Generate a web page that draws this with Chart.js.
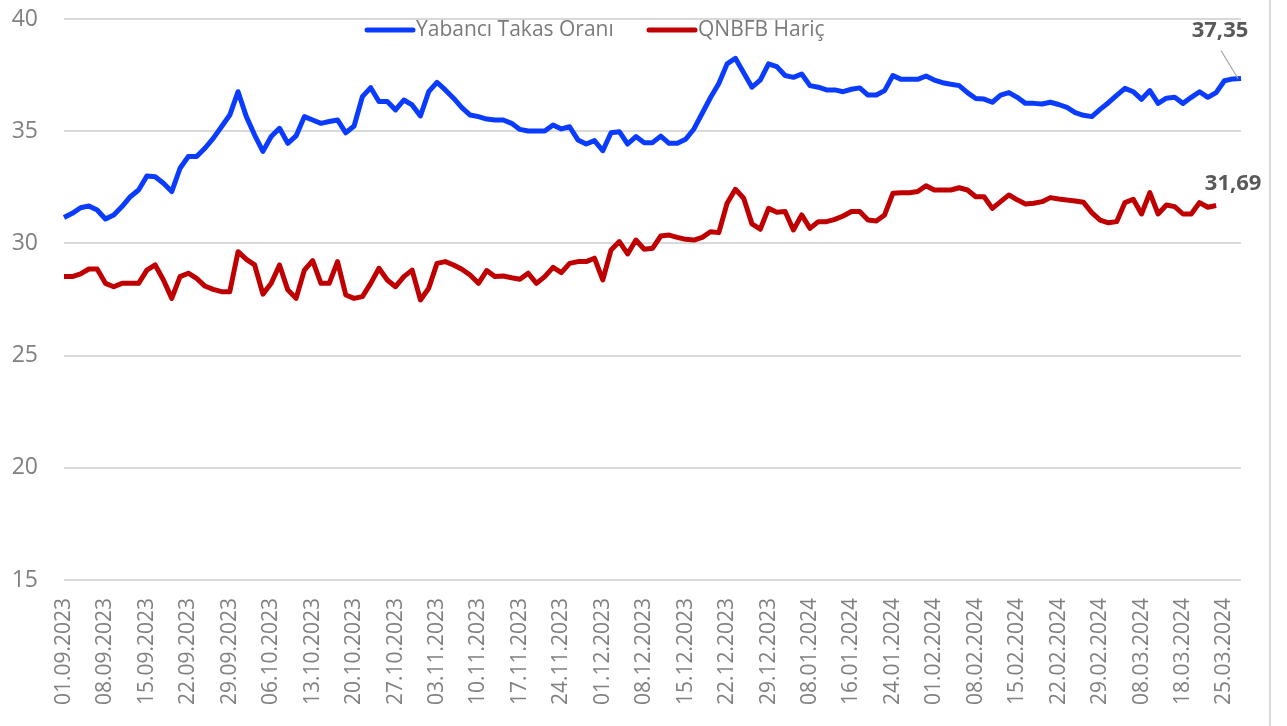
<!DOCTYPE html>
<html>
<head>
<meta charset="utf-8">
<script src="https://cdn.jsdelivr.net/npm/chart.js@4.4.1/dist/chart.umd.min.js"></script>
<style>
  html, body { margin: 0; padding: 0; background: #ffffff; }
  #wrap { width: 1287px; height: 726px; position: relative; }
</style>
</head>
<body>
<div id="wrap"><canvas id="c" width="1287" height="726"></canvas></div>
<script>
// ---------- DATA ----------
const categories = [
  "01.09.2023","04.09.2023","05.09.2023","06.09.2023","07.09.2023",
  "08.09.2023","11.09.2023","12.09.2023","13.09.2023","14.09.2023",
  "15.09.2023","18.09.2023","19.09.2023","20.09.2023","21.09.2023",
  "22.09.2023","25.09.2023","26.09.2023","27.09.2023","28.09.2023",
  "29.09.2023","02.10.2023","03.10.2023","04.10.2023","05.10.2023",
  "06.10.2023","09.10.2023","10.10.2023","11.10.2023","12.10.2023",
  "13.10.2023","16.10.2023","17.10.2023","18.10.2023","19.10.2023",
  "20.10.2023","23.10.2023","24.10.2023","25.10.2023","26.10.2023",
  "27.10.2023","30.10.2023","31.10.2023","01.11.2023","02.11.2023",
  "03.11.2023","06.11.2023","07.11.2023","08.11.2023","09.11.2023",
  "10.11.2023","13.11.2023","14.11.2023","15.11.2023","16.11.2023",
  "17.11.2023","20.11.2023","21.11.2023","22.11.2023","23.11.2023",
  "24.11.2023","27.11.2023","28.11.2023","29.11.2023","30.11.2023",
  "01.12.2023","04.12.2023","05.12.2023","06.12.2023","07.12.2023",
  "08.12.2023","11.12.2023","12.12.2023","13.12.2023","14.12.2023",
  "15.12.2023","18.12.2023","19.12.2023","20.12.2023","21.12.2023",
  "22.12.2023","25.12.2023","26.12.2023","27.12.2023","28.12.2023",
  "29.12.2023","02.01.2024","03.01.2024","04.01.2024","05.01.2024",
  "08.01.2024","09.01.2024","10.01.2024","11.01.2024","12.01.2024",
  "16.01.2024","17.01.2024","18.01.2024","19.01.2024","22.01.2024",
  "24.01.2024","25.01.2024","26.01.2024","29.01.2024","31.01.2024",
  "01.02.2024","02.02.2024","05.02.2024","06.02.2024","07.02.2024",
  "08.02.2024","09.02.2024","12.02.2024","13.02.2024","14.02.2024",
  "15.02.2024","16.02.2024","19.02.2024","20.02.2024","21.02.2024",
  "22.02.2024","23.02.2024","26.02.2024","27.02.2024","28.02.2024",
  "29.02.2024","01.03.2024","04.03.2024","05.03.2024","07.03.2024",
  "08.03.2024","11.03.2024","12.03.2024","13.03.2024","15.03.2024",
  "18.03.2024","19.03.2024","20.03.2024","21.03.2024","22.03.2024",
  "25.03.2024","26.03.2024","27.03.2024"
];

const tickLabels = [
  "01.09.2023","08.09.2023","15.09.2023","22.09.2023","29.09.2023",
  "06.10.2023","13.10.2023","20.10.2023","27.10.2023","03.11.2023",
  "10.11.2023","17.11.2023","24.11.2023","01.12.2023","08.12.2023",
  "15.12.2023","22.12.2023","29.12.2023","08.01.2024","16.01.2024",
  "24.01.2024","01.02.2024","08.02.2024","15.02.2024","22.02.2024",
  "29.02.2024","08.03.2024","18.03.2024","25.03.2024"
];

const seriesNames = ["Yabancı Takas Oranı", "QNBFB Hariç"];

const yabanciTakas = [
  31.15,31.34,31.59,31.67,31.49,31.09,31.27,31.64,32.08,32.38,
  33.00,32.97,32.68,32.31,33.35,33.87,33.87,34.24,34.68,35.20,
  35.72,36.76,35.65,34.83,34.10,34.76,35.13,34.46,34.79,35.65,
  35.50,35.35,35.43,35.50,34.93,35.23,36.54,36.94,36.32,36.32,
  35.95,36.39,36.17,35.68,36.76,37.18,36.84,36.47,36.05,35.72,
  35.65,35.54,35.50,35.50,35.35,35.08,35.01,35.01,35.01,35.28,
  35.10,35.20,34.61,34.43,34.58,34.13,34.93,34.98,34.43,34.76,
  34.49,34.49,34.78,34.46,34.46,34.64,35.10,35.80,36.50,37.13,
  38.00,38.25,37.61,36.96,37.28,38.00,37.88,37.48,37.40,37.55,
  37.03,36.96,36.84,36.84,36.76,36.87,36.93,36.61,36.61,36.81,
  37.48,37.31,37.31,37.31,37.46,37.28,37.16,37.09,37.03,36.72,
  36.46,36.43,36.29,36.61,36.72,36.51,36.24,36.24,36.21,36.29,
  36.19,36.06,35.83,35.71,35.65,35.97,36.27,36.60,36.91,36.76,
  36.42,36.81,36.24,36.47,36.51,36.24,36.51,36.76,36.51,36.72,
  37.25,37.33,37.35
];

const qnbfbHaric = [
  28.52,28.52,28.64,28.86,28.86,28.22,28.07,28.22,28.22,28.22,
  28.81,29.04,28.37,27.55,28.52,28.67,28.44,28.10,27.95,27.85,
  27.85,29.63,29.29,29.04,27.74,28.22,29.04,27.93,27.55,28.81,
  29.23,28.22,28.22,29.19,27.70,27.55,27.63,28.22,28.89,28.37,
  28.07,28.52,28.81,27.48,28.00,29.11,29.19,29.04,28.85,28.59,
  28.22,28.79,28.52,28.55,28.47,28.40,28.67,28.22,28.52,28.93,
  28.70,29.11,29.19,29.19,29.34,28.37,29.71,30.08,29.53,30.15,
  29.74,29.78,30.33,30.37,30.27,30.18,30.15,30.27,30.52,30.48,
  31.79,32.41,32.01,30.87,30.63,31.56,31.39,31.42,30.60,31.27,
  30.67,30.97,30.97,31.07,31.22,31.42,31.42,31.04,31.00,31.27,
  32.23,32.26,32.26,32.31,32.57,32.38,32.38,32.38,32.48,32.38,
  32.08,32.08,31.56,31.86,32.16,31.94,31.76,31.79,31.86,32.04,
  31.98,31.93,31.89,31.83,31.37,31.04,30.92,30.97,31.82,31.97,
  31.31,32.26,31.31,31.71,31.64,31.31,31.31,31.82,31.61,31.69,
  null,null,null
];

const yTicks = [15, 20, 25, 30, 35, 40];

// ---------- STYLE ----------
const BLUE = '#0a3cff';
const RED = '#c00000';
const GRID = '#d9d9d9';
const TXT = '#808080';
const FONT = "'Open Sans', 'Noto Sans', sans-serif";

function fmt(v) { return v.toFixed(2).replace('.', ','); }

const extrasPlugin = {
  id: 'extras',
  afterDraw(chart) {
    const ctx = chart.ctx;
    const area = chart.chartArea;
    ctx.save();
    // right frame edge
    ctx.fillStyle = GRID;
    ctx.fillRect(chart.width - 18, 0, 2, chart.height);

    // legend (inside chart area, top)
    ctx.font = "21px " + FONT;
    ctx.textBaseline = 'middle';
    ctx.textAlign = 'left';
    const ly = area.top + 11;
    const items = [
      { x: 365, color: BLUE, text: seriesNames[0] },
      { x: 647, color: RED, text: seriesNames[1] }
    ];
    items.forEach(it => {
      ctx.strokeStyle = it.color;
      ctx.lineWidth = 5;
      ctx.lineCap = 'round';
      ctx.beginPath();
      ctx.moveTo(it.x + 2, ly);
      ctx.lineTo(it.x + 48, ly);
      ctx.stroke();
      ctx.fillStyle = '#7a7a7a';
      ctx.fillText(it.text, it.x + 51, ly);
    });

    // end-value labels
    ctx.font = "bold 22px " + FONT;
    ctx.fillStyle = '#595959';
    ctx.textAlign = 'center';
    const m0 = chart.getDatasetMeta(0);
    const p0 = m0.data[yabanciTakas.length - 1];
    ctx.fillText(fmt(yabanciTakas[yabanciTakas.length - 1]), p0.x - 21, p0.y - 48);
    ctx.strokeStyle = '#a6a6a6';
    ctx.lineWidth = 1.2;
    ctx.lineCap = 'butt';
    ctx.beginPath();
    ctx.moveTo(p0.x - 20, p0.y - 28);
    ctx.lineTo(p0.x - 3, p0.y);
    ctx.stroke();

    let lastIdx = qnbfbHaric.length - 1;
    while (qnbfbHaric[lastIdx] === null) lastIdx--;
    const m1 = chart.getDatasetMeta(1);
    const p1 = m1.data[lastIdx];
    ctx.fillText(fmt(qnbfbHaric[lastIdx]), p1.x + 17, p1.y - 22);
    ctx.restore();
  }
};

new Chart(document.getElementById('c'), {
  type: 'line',
  data: {
    labels: categories,
    datasets: [
      {
        label: seriesNames[0],
        data: yabanciTakas,
        borderColor: BLUE,
        backgroundColor: BLUE,
        borderWidth: 5,
        pointRadius: 0,
        tension: 0,
        borderCapStyle: 'butt',
        borderJoinStyle: 'round',
        spanGaps: false
      },
      {
        label: seriesNames[1],
        data: qnbfbHaric,
        borderColor: RED,
        backgroundColor: RED,
        borderWidth: 5,
        pointRadius: 0,
        tension: 0,
        borderCapStyle: 'butt',
        borderJoinStyle: 'round',
        spanGaps: false
      }
    ]
  },
  options: {
    responsive: false,
    animation: false,
    devicePixelRatio: 1,
    layout: { padding: { left: 0, right: 46, top: 19, bottom: 0 } },
    plugins: {
      legend: { display: false },
      tooltip: { enabled: false },
      title: { display: false }
    },
    scales: {
      x: {
        type: 'category',
        offset: false,
        grid: { display: false, drawTicks: false },
        border: { display: false },
        afterFit: (s) => { s.height = 146; s.paddingLeft = 0; s.paddingRight = 0; },
        ticks: {
          autoSkip: false,
          minRotation: 90,
          maxRotation: 90,
          padding: 18,
          color: TXT,
          font: { family: FONT, size: 21 },
          callback: function (val, idx) {
            const lab = categories[idx];
            return tickLabels.includes(lab) ? lab : '';
          }
        }
      },
      y: {
        min: 15,
        max: 40,
        afterFit: (s) => { s.width = 64; s.paddingTop = 0; s.paddingBottom = 0; },
        afterBuildTicks: (s) => { s.ticks = yTicks.map(v => ({ value: v })); },
        grid: { color: GRID, lineWidth: 2, drawTicks: false },
        border: { display: false },
        ticks: {
          padding: 26,
          color: TXT,
          font: { family: FONT, size: 23 },
          callback: (v) => String(v)
        }
      }
    }
  },
  plugins: [extrasPlugin]
});
</script>
</body>
</html>
